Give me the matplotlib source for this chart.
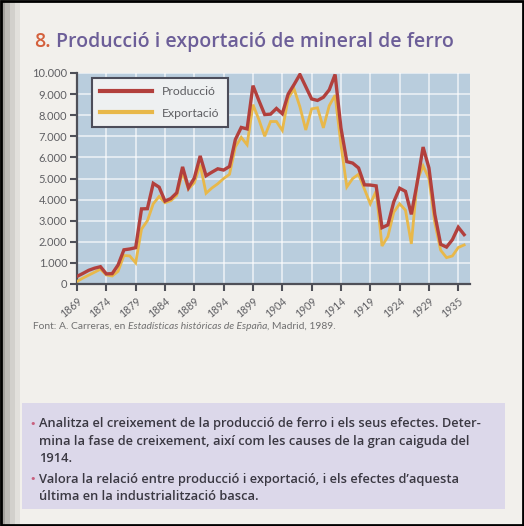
import matplotlib
matplotlib.use('Agg')
import matplotlib.pyplot as plt
from matplotlib.patches import Rectangle

# data (thousand tonnes), 1869-1935
YEARS = list(range(1869, 1936))
PRODUCCIO = [360, 500, 650, 750, 820, 480, 490, 900, 1620, 1660,
             1720, 3560, 3570, 4770, 4590, 3930, 4050, 4320, 5550, 4560,
             5020, 6070, 5130, 5300, 5460, 5400, 5570, 6850, 7420, 7350,
             9400, 8700, 8030, 8050, 8320, 8070, 9000, 9450, 9930, 9350,
             8770, 8700, 8850, 9200, 9930, 7400, 5800, 5730, 5500, 4700,
             4690, 4650, 2670, 2800, 3890, 4540, 4390, 3300, 4800, 6490,
             5500, 3300, 1880, 1750, 2100, 2690, 2340]
EXPORTACIO = [120, 280, 420, 560, 700, 430, 380, 600, 1350, 1330,
              1000, 2600, 3000, 3800, 4150, 3850, 3950, 4200, 5300, 4500,
              4800, 5650, 4300, 4550, 4750, 5000, 5200, 6500, 6950, 6600,
              8500, 7800, 7000, 7700, 7700, 7280, 8800, 9250, 8400, 7300,
              8300, 8350, 7400, 8450, 8950, 6600, 4600, 5000, 5200, 4500,
              3800, 4400, 1800, 2250, 3400, 3800, 3500, 1900, 4900, 5600,
              5000, 2900, 1600, 1250, 1330, 1730, 1850]
Y_TICKS = list(range(0, 10001, 1000))
Y_LABELS = ['0', '1.000', '2.000', '3.000', '4.000', '5.000',
            '6.000', '7.000', '8.000', '9.000', '10.000']
X_TICKS = list(range(1869, 1935, 5))
X_LABELS = ['1869', '1874', '1879', '1884', '1889', '1894', '1899',
            '1904', '1909', '1914', '1919', '1924', '1929', '1935']

W, H = 524, 526
RED = '#b2403d'
YEL = '#e8b84a'
GREY = '#5f5f63'

fig = plt.figure(figsize=(W / 100, H / 100), dpi=100)
fig.patch.set_facecolor('#f2f0ec')

# binding shadow on the left + frame
for i, c in enumerate(['#a3a19d', '#bdbbb7', '#d2d0cc', '#e2e0dc']):
    fig.add_artist(Rectangle((i * 5 / W, 0), 5 / W, 1, transform=fig.transFigure,
                             facecolor=c, edgecolor='none', zorder=0))
fig.add_artist(Rectangle((1 / W, 1 / H), (W - 2) / W, (H - 2) / H, transform=fig.transFigure,
                         facecolor='none', edgecolor='black', linewidth=2, zorder=5))


def put(x, y, s, va='center', **kw):
    # place text in pixel coords (y from the top), return right edge in px
    t = fig.text(x / W, 1 - y / H, s, va=va, **kw)
    r = fig.canvas.get_renderer()
    bb = t.get_window_extent(renderer=r)
    return bb.x1


# title
x = put(34, 42, '8.', fontsize=14, color='#d4603c', family='Open Sans', fontweight='semibold')
put(x + 5, 42, 'Producció i exportació de mineral de ferro', fontsize=14,
    color='#6c5e98', family='Open Sans', fontweight='semibold')

# chart
ax = fig.add_axes([77 / W, 1 - 284 / H, 393 / W, 211 / H])
ax.set_facecolor('#b9cddd')
ax.plot(YEARS, EXPORTACIO, color=YEL, lw=2.0, label='Exportació', zorder=3,
        solid_joinstyle='miter')
ax.plot(YEARS, PRODUCCIO, color=RED, lw=2.4, label='Producció', zorder=4,
        solid_joinstyle='miter')
ax.set_xlim(1869, 1936)
ax.set_ylim(0, 10000)
ax.set_yticks(Y_TICKS)
ax.set_yticklabels(Y_LABELS)
ax.set_xticks(X_TICKS)
ax.set_xticklabels(X_LABELS, rotation=40, ha='right', rotation_mode='anchor')
ax.grid(True, color='white', lw=1.1, alpha=0.75)
ax.set_axisbelow(True)
for s in ['top', 'right']:
    ax.spines[s].set_visible(False)
for s in ['left', 'bottom']:
    ax.spines[s].set_color('#4f5058')
    ax.spines[s].set_linewidth(1.6)
ax.tick_params(direction='out', length=5, width=1.5, color='#4f5058',
               labelcolor=GREY, labelsize=8, pad=2)
ax.tick_params(axis='x', pad=3, labelsize=7.6)
for lab in ax.get_yticklabels() + ax.get_xticklabels():
    lab.set_family('Lato')

h, l = ax.get_legend_handles_labels()
leg = ax.legend(h[::-1], l[::-1], loc='upper left', bbox_to_anchor=(0.038, 0.978),
                borderaxespad=0, fontsize=8.8, handlelength=4.2, handletextpad=0.8,
                labelspacing=0.85, borderpad=0.7, fancybox=False, framealpha=1)
leg.get_frame().set_facecolor('#eef0f1')
leg.get_frame().set_edgecolor('#4c4d5a')
leg.get_frame().set_linewidth(1.5)
for t in leg.get_texts():
    t.set_color(GREY)
    t.set_family('Lato')
for ln in leg.get_lines():
    ln.set_linewidth(3)

# source line
SRC = dict(fontsize=7.4, color='#707070', family='Lato', va='baseline')
x = put(33, 329, 'Font: A. Carreras, en ', **SRC)
x = put(x, 329, 'Estadísticas históricas de España', style='italic', **SRC)
put(x, 329, ', Madrid, 1989.', **SRC)

# question box
fig.add_artist(Rectangle((22 / W, 1 - 509 / H), 483 / W, 106 / H, transform=fig.transFigure,
                         facecolor='#dcd8ea', edgecolor='none', zorder=0))
BULLET = '#c8607e'
kw = dict(fontsize=9.3, color='#3a3842', family='Open Sans', fontweight='semibold')
put(29, 424, '•', fontsize=8, color=BULLET)
put(39, 424, 'Analitza el creixement de la producció de ferro i els seus efectes. Deter-', **kw)
put(39, 441, 'mina la fase de creixement, així com les causes de la gran caiguda del', **kw)
put(39, 458, '1914.', **kw)
put(29, 479, '•', fontsize=8, color=BULLET)
put(39, 479, 'Valora la relació entre producció i exportació, i els efectes d’aquesta', **kw)
put(39, 496, 'última en la industrialització basca.', **kw)

fig.savefig('out.png', dpi=100)
